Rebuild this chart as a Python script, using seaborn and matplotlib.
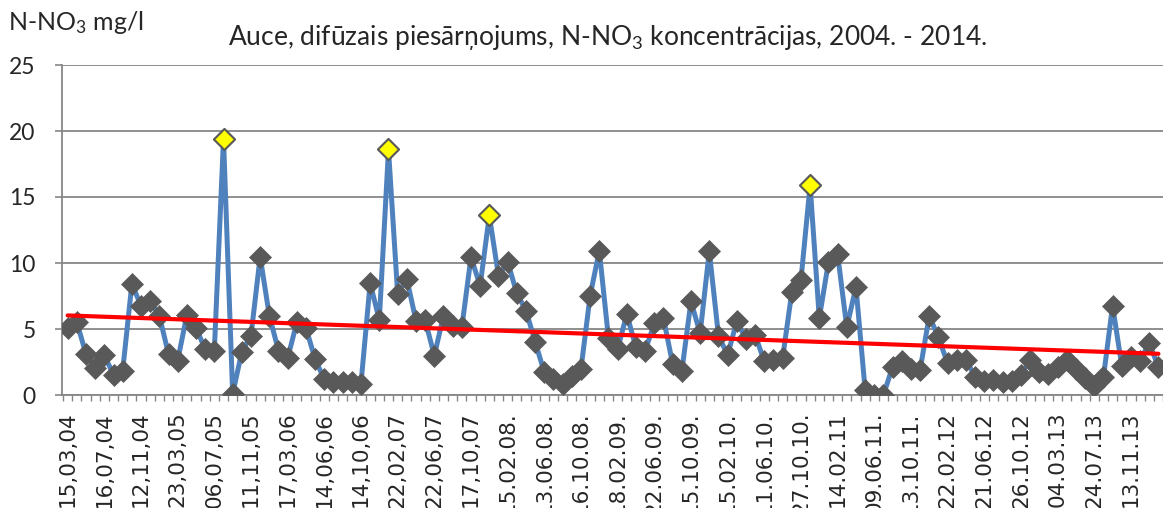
import numpy as np
import pandas as pd
import matplotlib
matplotlib.use("Agg")
import matplotlib.pyplot as plt
import seaborn as sns

# ---- data ----
values = [
    5.07, 5.5, 3.1, 2.05, 3.0, 1.54, 1.84, 8.4, 6.77, 7.1,
    6.0, 3.1, 2.6, 6.06, 5.07, 3.48, 3.36, 19.4, 0.08, 3.28,
    4.5, 10.48, 6.0, 3.36, 2.8, 5.5, 5.07, 2.7, 1.2, 0.95,
    1.0, 0.95, 0.85, 8.48, 5.68, 18.6, 7.65, 8.79, 5.63, 5.68,
    2.98, 6.0, 5.25, 5.12, 10.43, 8.28, 13.6, 9.04, 10.1, 7.7,
    6.39, 4.04, 1.71, 1.21, 0.83, 1.46, 1.97, 7.52, 10.93, 4.3,
    3.48, 6.13, 3.6, 3.36, 5.42, 5.83, 2.35, 1.79, 7.09, 4.67,
    10.88, 4.49, 3.03, 5.58, 4.24, 4.55, 2.55, 2.65, 2.8, 7.78,
    8.71, 15.9, 5.83, 10.05, 10.68, 5.12, 8.2, 0.4, 0.0, 0.0,
    2.14, 2.6, 1.97, 1.89, 6.0, 4.36, 2.4, 2.65, 2.65, 1.39,
    1.03, 1.14, 0.95, 1.03, 1.54, 2.65, 1.71, 1.59, 2.09, 2.65,
    1.97, 1.29, 0.7, 1.33, 6.77, 2.22, 2.9, 2.6, 3.95, 2.1,
]
tick_labels = [
    "15,03,04", "16,07,04", "12,11,04", "23,03,05", "06,07,05", "11,11,05",
    "17,03,06", "14,06,06", "14,10,06", "22,02,07", "22,06,07", "17,10,07",
    "15.02.08.", "13.06.08.", "16.10.08.", "18.02.09.", "22.06.09.", "15.10.09.",
    "15.02.10.", "11.06.10.", "27.10.10.", "14.02.11", "09.06.11.", "13.10.11.",
    "22.02.12", "21.06.12", "26.10.12", "04.03.13", "24.07.13", "13.11.13",
]
label_step = 4
highlight_idx = [17, 35, 46, 81]

title = "Auce, difūzais piesārņojums, N-NO$_3$ koncentrācijas, 2004. - 2014."
unit_label = "N-NO$_3$ mg/l"

# ---- style ----
sns.set_theme(style="white")
plt.rcParams["font.family"] = ["Lato", "DejaVu Sans"]
plt.rcParams["mathtext.fontset"] = "custom"
plt.rcParams["mathtext.rm"] = "Lato"
plt.rcParams["mathtext.it"] = "Lato:italic"
plt.rcParams["mathtext.default"] = "regular"

W, H = 1163, 508
fig = plt.figure(figsize=(W / 100, H / 100), dpi=100)
fig.patch.set_facecolor("white")
ax = fig.add_axes([62 / W, 1 - 395 / H, 1 - 62 / W, (395 - 65) / H])

df = pd.DataFrame({"i": np.arange(len(values)), "v": values})

sns.lineplot(data=df, x="i", y="v", ax=ax, color="#4F81BD", linewidth=3.6,
             marker="D", markersize=11.5, markerfacecolor="#595959",
             markeredgecolor="#595959", markeredgewidth=0.5, zorder=3)
hi = df.iloc[highlight_idx]
sns.scatterplot(data=hi, x="i", y="v", ax=ax, marker="D", s=115,
                color="#FFFF00", edgecolor="#595959", linewidth=1.5, zorder=4)
sns.regplot(data=df, x="i", y="v", ax=ax, scatter=False, ci=None,
            color="#FF0000", line_kws={"linewidth": 3.0, "zorder": 5})

# ---- axes ----
gray = "#868686"
ax.set_ylim(0, 25)
ax.set_yticks(np.arange(0, 26, 5))
ax.set_xlim(-0.62, 118.54)
ax.set_xlabel("")
ax.set_ylabel("")
ax.yaxis.grid(True, color=gray, linewidth=1.3)
ax.xaxis.grid(False)
ax.set_axisbelow(True)
for s in ["top", "right"]:
    ax.spines[s].set_visible(False)
for s in ["left", "bottom"]:
    ax.spines[s].set_color(gray)
    ax.spines[s].set_linewidth(1.3)

ax.set_xticks(np.arange(0, len(tick_labels) * label_step, label_step))
ax.set_xticklabels(tick_labels, rotation=90, ha="center", va="top",
                   family="DejaVu Sans", fontsize=15.5)
ax.set_xticks(np.arange(-0.5, len(values), 1), minor=True)
ax.tick_params(axis="x", which="major", length=0, pad=12)
ax.tick_params(axis="x", which="minor", length=4.5, width=1, color=gray,
               direction="out", bottom=True)
ax.tick_params(axis="y", which="major", length=5, width=1.2, color=gray,
               direction="out", left=True, pad=14, labelsize=16.5)

# ---- texts ----
fig.text(608 / W, 1 - 37 / H, title, ha="center", va="center", fontsize=19)
fig.text(8 / W, 1 - 22 / H, unit_label, ha="left", va="center", fontsize=18)

fig.savefig("out.png", dpi=100, facecolor="white")
